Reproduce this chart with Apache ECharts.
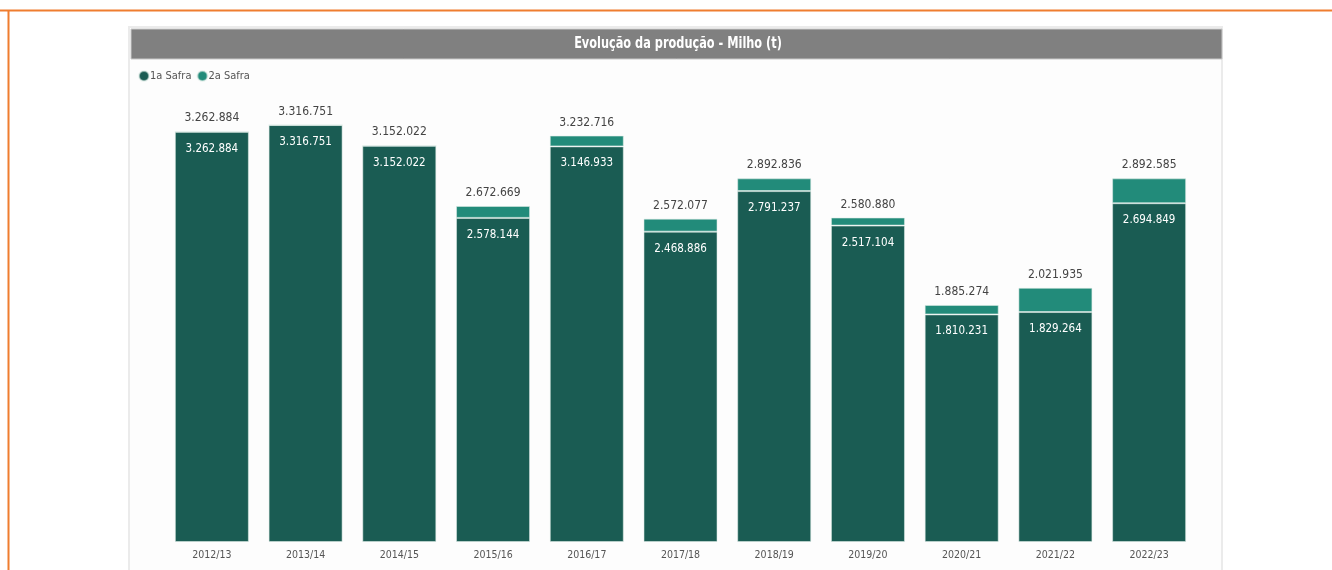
<!DOCTYPE html>
<html>
<head>
<meta charset="utf-8">
<script src="https://cdn.jsdelivr.net/npm/echarts@6/dist/echarts.min.js"></script>
<style>
html,body{margin:0;padding:0;background:#fff;}
#c{width:1332px;height:570px;}
</style>
</head>
<body>
<div id="c"></div>
<script>
const categories = ['2012/13','2013/14','2014/15','2015/16','2016/17','2017/18','2018/19','2019/20','2020/21','2021/22','2022/23'];
const safra1 = [3262884,3316751,3152022,2578144,3146933,2468886,2791237,2517104,1810231,1829264,2694849];
const totals = [3262884,3316751,3152022,2672669,3232716,2572077,2892836,2580880,1885274,2021935,2892585];
const safra2 = [0,0,0,94525,85783,103191,101599,63776,75043,192671,197736];
const titleText = 'Evolução da produção - Milho (t)';
const seriesNames = ['1a Safra','2a Safra'];

const FONT = "'DejaVu Sans Condensed','Liberation Sans',sans-serif";
function fmt(v){ return String(v).replace(/\B(?=(\d{3})+(?!\d))/g,'.'); }

const chart = echarts.init(document.getElementById('c'), null, {renderer:'canvas'});
chart.setOption({
  animation:false,
  backgroundColor:'#ffffff',
  graphic:[
    {type:'rect', z:-10, shape:{x:129,y:27,width:1093,height:560}, style:{fill:'#fdfdfd', stroke:'#ebebeb', lineWidth:2}},
    {type:'rect', z:-9, shape:{x:131,y:29,width:1091,height:30}, style:{fill:'#808080', stroke:'#c8c8c8', lineWidth:1}},
    {type:'text', z:5, x:678, y:44, scaleX:0.84, scaleY:1,
      style:{text:titleText, x:0, y:0, align:'center', verticalAlign:'middle', fill:'#ffffff', font:"bold 15px "+FONT}},
    {type:'line', z:10, shape:{x1:0,y1:10.5,x2:1332,y2:10.5}, style:{stroke:'#ef7d2f', lineWidth:2}},
    {type:'line', z:10, shape:{x1:8.5,y1:10,x2:8.5,y2:570}, style:{stroke:'#ef7d2f', lineWidth:2}}
  ],
  legend:{
    left:133, top:65, icon:'circle', itemWidth:10, itemHeight:10, itemGap:5,
    data:seriesNames,
    textStyle:{color:'#555', fontSize:11, fontFamily:FONT, padding:[0,0,0,-4]}
  },
  grid:{left:165, right:136, top:102, bottom:28, containLabel:false},
  xAxis:{
    type:'category', data:categories,
    axisLine:{show:false}, axisTick:{show:false},
    axisLabel:{color:'#555', fontSize:10.5, fontFamily:FONT, margin:8}
  },
  yAxis:{type:'value', min:0, max:3500000, show:false, splitLine:{show:false}},
  series:[
    {
      name:seriesNames[0], type:'bar', stack:'t', barWidth:74, data:safra1,
      itemStyle:{color:'#1a5c53', borderColor:'rgba(220,235,230,0.55)', borderWidth:1},
      label:{show:true, position:'insideTop', distance:11, color:'#ffffff', fontSize:11.5, fontFamily:FONT,
        formatter:p=>fmt(p.value)}
    },
    {
      name:seriesNames[1], type:'bar', stack:'t', barWidth:74, data:safra2,
      itemStyle:{color:'#228b7a', borderColor:'rgba(220,235,230,0.55)', borderWidth:1},
      label:{show:true, position:'top', distance:7, color:'#444444', fontSize:12, fontFamily:FONT,
        formatter:p=>fmt(totals[p.dataIndex])}
    }
  ]
});
</script>
</body>
</html>
